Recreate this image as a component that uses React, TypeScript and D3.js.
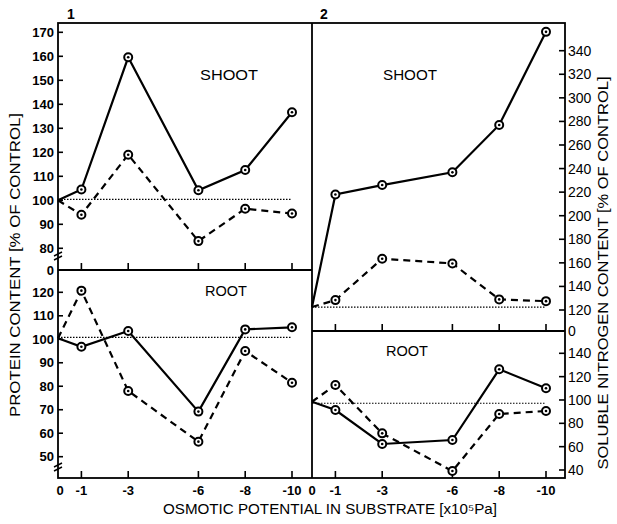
import React from "react";
import * as d3 from "d3";

const potentials = [0, -1, -3, -6, -8, -10];
const proteinShootSolid = [100, 104.5, 159.6, 104.2, 112.6, 136.7];
const proteinShootDashed = [100, 94, 119, 83, 96.5, 94.5];
const proteinRootSolid = [100.4, 96.8, 103.5, 69.2, 104.2, 105.1];
const proteinRootDashed = [100.4, 120.7, 78, 56.4, 95, 81.5];
const nitrogenShootSolid = [122.5, 218, 226, 236.8, 277, 356];
const nitrogenShootDashed = [122.5, 128.4, 163.5, 159.5, 129, 127.5];
const nitrogenRootSolid = [98.5, 91.4, 62.3, 65.7, 126.3, 110];
const nitrogenRootDashed = [98.5, 112.8, 71.4, 39.1, 88, 90.6];

const controlTL = 100.4;
const controlBL = 100.8;
const controlTR = 122.5;
const controlBR = 97.2;

const ticksTL = [170, 160, 150, 140, 130, 120, 110, 100, 90, 80];
const ticksBL = [120, 110, 100, 90, 80, 70, 60, 50];
const ticksTR = [340, 320, 300, 280, 260, 240, 220, 200, 180, 160, 140, 120];
const ticksBR = [140, 120, 100, 80, 60, 40];
const xTickLabels = ["0", "-1", "-3", "-6", "-8", "-10"];

const FONT = "'Liberation Sans', Arial, sans-serif";

const L = 58, M = 312, R = 565, T = 23, B = 478, DL = 270, DR = 331;

const xL = d3.scaleLinear().domain([0, -10]).range([58, 292]);
const xR = d3.scaleLinear().domain([0, -10]).range([312, 546]);
const yTL = d3.scaleLinear().domain([80, 170]).range([248.3, 32.3]);
const yBL = d3.scaleLinear().domain([50, 120]).range([456.7, 292.3]);
const yTR = d3.scaleLinear().domain([120, 340]).range([310, 50.7]);
const yBR = d3.scaleLinear().domain([40, 140]).range([470, 353.3]);

function Series({ x, y, vals, dashed }: any) {
  const line = d3.line<number>().x((_, i) => x(potentials[i])).y((v) => y(v));
  return (
    <g>
      <path d={line(vals) || ""} fill="none" stroke="#000" strokeWidth={2.2}
        strokeDasharray={dashed ? "7,5" : undefined} />
      {vals.map((v: number, i: number) => i === 0 ? null : (
        <g key={i}>
          <circle cx={x(potentials[i])} cy={y(v)} r={4} fill="#fff" stroke="#000" strokeWidth={2} />
          <circle cx={x(potentials[i])} cy={y(v)} r={1.3} fill="#000" />
        </g>
      ))}
    </g>
  );
}

function Control({ x, y, v }: any) {
  return <line x1={x(0)} x2={x(-10)} y1={y(v)} y2={y(v)} stroke="#000" strokeWidth={1.2} strokeDasharray="1.5,1.5" />;
}

function BreakMark({ x, y }: any) {
  return (
    <g stroke="#000" strokeWidth={1.4}>
      <line x1={x - 4} y1={y + 1} x2={x + 4} y2={y - 3} />
      <line x1={x - 4} y1={y + 5} x2={x + 4} y2={y + 1} />
    </g>
  );
}

export default function App() {
  const tickLabel = { fontFamily: FONT, fontSize: 13, fontWeight: 700 } as any;
  const title = { fontFamily: FONT, fontSize: 15 } as any;
  return (
    <svg width={617} height={524} style={{ position: "absolute", left: 0, top: 0 }}>
      <rect width={617} height={524} fill="#fff" />
      {/* frame */}
      <g stroke="#000" strokeWidth={1.8} fill="none">
        <rect x={L} y={T} width={R - L} height={B - T} />
        <line x1={M} x2={M} y1={T} y2={B} />
        <line x1={L} x2={M} y1={DL} y2={DL} />
        <line x1={M} x2={R} y1={DR} y2={DR} />
      </g>
      {/* x ticks */}
      <g stroke="#000" strokeWidth={1.6}>
        {potentials.slice(1).map((p) => (
          <g key={p}>
            <line x1={xL(p)} x2={xL(p)} y1={DL} y2={DL - 7} />
            <line x1={xL(p)} x2={xL(p)} y1={B} y2={B - 7} />
            <line x1={xR(p)} x2={xR(p)} y1={DR} y2={DR - 7} />
            <line x1={xR(p)} x2={xR(p)} y1={B} y2={B - 7} />
          </g>
        ))}
      </g>
      {/* left y ticks */}
      <g stroke="#000" strokeWidth={1.6}>
        {ticksTL.map((t) => <line key={"a" + t} x1={L} x2={L + 5} y1={yTL(t)} y2={yTL(t)} />)}
        {ticksBL.map((t) => <line key={"b" + t} x1={L} x2={L + 5} y1={yBL(t)} y2={yBL(t)} />)}
        {ticksTR.map((t) => <line key={"c" + t} x1={R} x2={R - 6} y1={yTR(t)} y2={yTR(t)} />)}
        {ticksBR.map((t) => <line key={"d" + t} x1={R} x2={R - 6} y1={yBR(t)} y2={yBR(t)} />)}
      </g>
      <g {...tickLabel} textAnchor="end">
        {ticksTL.map((t) => <text key={t} x={L - 4} y={yTL(t) + 4.5}>{t}</text>)}
        <text x={L - 4} y={DL + 4.5}>0</text>
        {ticksBL.map((t) => <text key={t} x={L - 4} y={yBL(t) + 4.5}>{t}</text>)}
      </g>
      <g {...tickLabel} fontWeight={400} fontSize={14} textAnchor="start">
        {ticksTR.map((t) => <text key={t} x={R + 3} y={yTR(t) + 5}>{t}</text>)}
        <text x={R + 3} y={DR + 5}>0</text>
        {ticksBR.map((t) => <text key={t} x={R + 3} y={yBR(t) + 5}>{t}</text>)}
      </g>
      <BreakMark x={L} y={255} />
      <BreakMark x={L} y={466} />
      {/* x tick labels */}
      <g {...tickLabel} textAnchor="middle">
        {potentials.map((p, i) => <text key={"l" + p} x={xL(p) + (i === 0 ? 2 : 0)} y={495}>{xTickLabels[i]}</text>)}
        {potentials.map((p, i) => <text key={"r" + p} x={xR(p)} y={495}>{xTickLabels[i]}</text>)}
      </g>
      {/* control lines */}
      <Control x={xL} y={yTL} v={controlTL} />
      <Control x={xL} y={yBL} v={controlBL} />
      <Control x={xR} y={yTR} v={controlTR} />
      <Control x={xR} y={yBR} v={controlBR} />
      {/* series */}
      <Series x={xL} y={yTL} vals={proteinShootSolid} />
      <Series x={xL} y={yTL} vals={proteinShootDashed} dashed />
      <Series x={xL} y={yBL} vals={proteinRootSolid} />
      <Series x={xL} y={yBL} vals={proteinRootDashed} dashed />
      <Series x={xR} y={yTR} vals={nitrogenShootSolid} />
      <Series x={xR} y={yTR} vals={nitrogenShootDashed} dashed />
      <Series x={xR} y={yBR} vals={nitrogenRootSolid} />
      <Series x={xR} y={yBR} vals={nitrogenRootDashed} dashed />
      {/* panel labels */}
      <g {...title}>
        <text x={200} y={80} textLength={58} lengthAdjust="spacingAndGlyphs">SHOOT</text>
        <text x={383} y={80} textLength={54} lengthAdjust="spacingAndGlyphs">SHOOT</text>
        <text x={205} y={296} textLength={42} lengthAdjust="spacingAndGlyphs">ROOT</text>
        <text x={386} y={356} textLength={42} lengthAdjust="spacingAndGlyphs">ROOT</text>
      </g>
      <g fontFamily={FONT} fontSize={14} fontWeight={700}>
        <text x={67} y={19}>1</text>
        <text x={320} y={19}>2</text>
      </g>
      {/* axis titles */}
      <text {...title} transform="translate(20,265) rotate(-90)" textAnchor="middle" textLength={304} lengthAdjust="spacingAndGlyphs">PROTEIN CONTENT [% OF CONTROL]</text>
      <text {...title} transform="translate(608,273) rotate(-90)" textAnchor="middle" textLength={393} lengthAdjust="spacingAndGlyphs">SOLUBLE NITROGEN CONTENT [% OF CONTROL]</text>
      <text {...title} x={330} y={514} textAnchor="middle" textLength={334} lengthAdjust="spacingAndGlyphs">OSMOTIC POTENTIAL IN SUBSTRATE [x10⁵Pa]</text>
    </svg>
  );
}
